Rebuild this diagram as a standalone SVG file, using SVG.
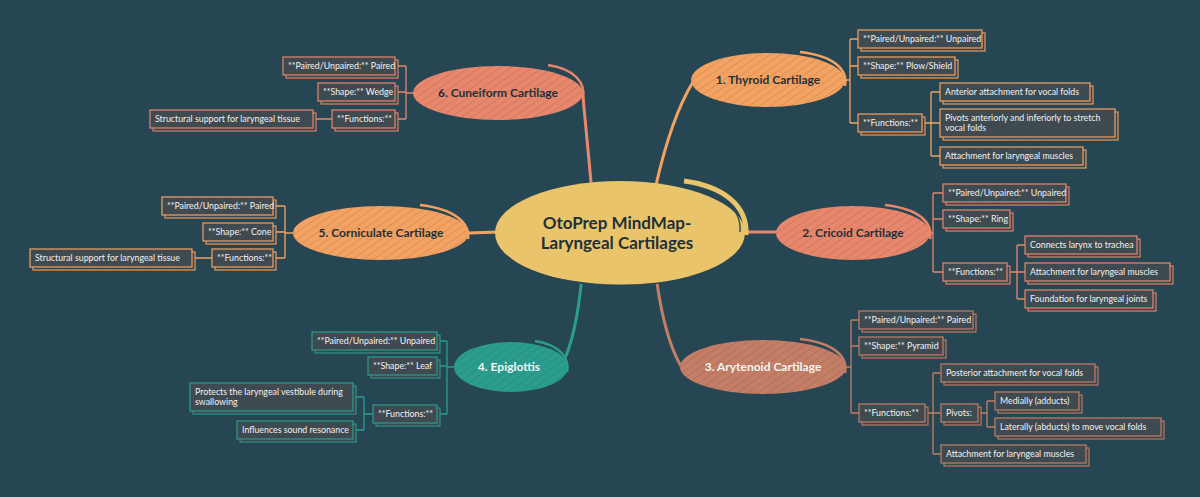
<svg xmlns="http://www.w3.org/2000/svg" width="1200" height="497" viewBox="0 0 1200 497">
<defs>
<pattern id="hatch" patternUnits="userSpaceOnUse" width="6" height="6" patternTransform="rotate(55)">
<line x1="0" y1="0" x2="0" y2="6" stroke="#1c2b30" stroke-opacity="0.32" stroke-width="0.8"/>
</pattern>
<pattern id="hatch2" patternUnits="userSpaceOnUse" width="9" height="9" patternTransform="rotate(55)">
<line x1="0" y1="0" x2="0" y2="9" stroke="#ffffff" stroke-opacity="0.05" stroke-width="0.8"/>
</pattern>
<style>
.bx{fill:#3e4a50;stroke-width:1.2}
.sh{fill:#3a464c;stroke-width:1.1}
.or{stroke:#f4a261}
.sa{stroke:#e8876c}
.br{stroke:#c47e65}
.te{stroke:#2a9d8f}
.t{font-family:Lato,"Open Sans",sans-serif;font-size:8.8px;fill:#f2f2f2}
.n{font-family:Lato,"Open Sans",sans-serif;font-size:12px;font-weight:bold;text-anchor:middle}
.dk{fill:#1f3039}
.wh{fill:#f5f5f5}
.ln{fill:none;stroke-width:1.3}
.cn{fill:none;stroke-width:3;stroke-linecap:round}
.hx{fill:url(#hatch)}
.bh{fill:url(#hatch2)}
</style>
</defs>
<rect width="1200" height="497" fill="#264653"/>

<g id="connectors">
<path class="cn or" d="M656,185 C664,150 677,108 693,82"/>
<path class="cn sa" d="M747,232 L779,232"/>
<path class="cn br" d="M657,283 C662,318 670,348 682,368"/>
<path class="cn te" d="M581,285 C578,315 573,338 566,356"/>
<path class="cn or" d="M469,233 L498,232"/>
<path class="cn sa" d="M583,97 C586,130 589,160 591,182"/>
<path class="ln or" d="M845,80 H850 M850,39 V123 M850,39 H858 M850,66 H858 M850,123 H858 M922,123 H931 M931,92 V156 M931,92 H940 M931,123 H940 M931,156 H940"/>
<path class="ln sa" d="M930,233 H933 M933,193 V272 M933,193 H943 M933,219 H943 M933,272 H943 M1007,272 H1017 M1017,245 V299 M1017,245 H1025 M1017,272 H1025 M1017,299 H1025"/>
<path class="ln br" d="M846,367 H851 M851,320 V413 M851,320 H859 M851,346 H859 M851,413 H859 M925,413 H933 M933,373 V454 M933,373 H941 M933,413 H941 M933,454 H941 M978,413 H987 M987,401 V427 M987,401 H995 M987,427 H995"/>
<path class="ln sa" d="M413,93 H406 M406,66 V119 M406,66 H395 M406,92 H395 M406,119 H395 M332,119 H313"/>
<path class="ln or" d="M293,233 H285 M285,206 V258 M285,206 H273 M285,232 H273 M285,258 H273 M212,258 H192"/>
<path class="ln te" d="M454,367 H447 M447,341 V414 M447,341 H437 M447,366 H437 M447,414 H437 M373,414 H364 M364,397 V430 M364,397 H353 M364,430 H353"/>
</g>

<g id="center">
<ellipse cx="620" cy="233" rx="125" ry="52" fill="#e9c46a"/>
<path d="M684,181 C722,186 748,205 746,235" fill="none" stroke="#e9c46a" stroke-width="5"/>
<path d="M688,186 C724,193 742,210 740,232" fill="none" stroke="#264653" stroke-width="1.6" stroke-opacity="0.85"/>
<path d="M507,256 C530,280 600,290 660,283" fill="none" stroke="#264653" stroke-width="1.6" stroke-opacity="0.8"/>
<text class="n dk" x="617" y="229" style="font-size:17px">OtoPrep MindMap-</text>
<text class="n dk" x="617" y="249" style="font-size:17px">Laryngeal Cartilages</text>
</g>

<g id="thyroid">
<ellipse cx="768" cy="80" rx="77" ry="27" fill="#f4a261"/>
<ellipse class="hx" cx="768" cy="80" rx="77" ry="27"/>
<path d="M800,52 C835,56 848,70 845,86" fill="none" stroke="#f4a261" stroke-width="2.5"/>
<text class="n dk" x="768" y="84">1. Thyroid Cartilage</text>
</g>
<g id="thyroid-paired"><rect class="sh or" x="861" y="33" width="124" height="18"/><rect class="bx or" x="858" y="30" width="124" height="18"/><rect class="bh" x="858" y="30" width="124" height="18"/><text class="t" x="863" y="42">**Paired/Unpaired:** Unpaired</text></g>
<g id="thyroid-shape"><rect class="sh or" x="861" y="60" width="97" height="18"/><rect class="bx or" x="858" y="57" width="97" height="18"/><rect class="bh" x="858" y="57" width="97" height="18"/><text class="t" x="863" y="69">**Shape:** Plow/Shield</text></g>
<g id="thyroid-functions"><rect class="sh or" x="861" y="117" width="64" height="18"/><rect class="bx or" x="858" y="114" width="64" height="18"/><rect class="bh" x="858" y="114" width="64" height="18"/><text class="t" x="863" y="126">**Functions:**</text></g>
<g id="thyroid-f1"><rect class="sh or" x="943" y="86" width="150" height="18"/><rect class="bx or" x="940" y="83" width="150" height="18"/><rect class="bh" x="940" y="83" width="150" height="18"/><text class="t" x="945" y="95">Anterior attachment for vocal folds</text></g>
<g id="thyroid-f2"><rect class="sh or" x="943" y="112" width="175" height="28"/><rect class="bx or" x="940" y="109" width="175" height="28"/><rect class="bh" x="940" y="109" width="175" height="28"/><text class="t" x="945" y="121">Pivots anteriorly and inferiorly to stretch</text><text class="t" x="945" y="131">vocal folds</text></g>
<g id="thyroid-f3"><rect class="sh or" x="943" y="150" width="143" height="18"/><rect class="bx or" x="940" y="147" width="143" height="18"/><rect class="bh" x="940" y="147" width="143" height="18"/><text class="t" x="945" y="159">Attachment for laryngeal muscles</text></g>

<g id="cricoid">
<ellipse cx="853" cy="233" rx="77" ry="27" fill="#e8876c"/>
<ellipse class="hx" cx="853" cy="233" rx="77" ry="27"/>
<path d="M885,205 C920,209 933,223 930,239" fill="none" stroke="#e8876c" stroke-width="2.5"/>
<text class="n dk" x="853" y="237">2. Cricoid Cartilage</text>
</g>
<g id="cricoid-paired"><rect class="sh sa" x="946" y="187" width="123" height="18"/><rect class="bx sa" x="943" y="184" width="123" height="18"/><rect class="bh" x="943" y="184" width="123" height="18"/><text class="t" x="948" y="196">**Paired/Unpaired:** Unpaired</text></g>
<g id="cricoid-shape"><rect class="sh sa" x="946" y="213" width="67" height="18"/><rect class="bx sa" x="943" y="210" width="67" height="18"/><rect class="bh" x="943" y="210" width="67" height="18"/><text class="t" x="948" y="222">**Shape:** Ring</text></g>
<g id="cricoid-functions"><rect class="sh sa" x="946" y="266" width="64" height="18"/><rect class="bx sa" x="943" y="263" width="64" height="18"/><rect class="bh" x="943" y="263" width="64" height="18"/><text class="t" x="948" y="275">**Functions:**</text></g>
<g id="cricoid-f1"><rect class="sh sa" x="1028" y="239" width="112" height="18"/><rect class="bx sa" x="1025" y="236" width="112" height="18"/><rect class="bh" x="1025" y="236" width="112" height="18"/><text class="t" x="1030" y="248">Connects larynx to trachea</text></g>
<g id="cricoid-f2"><rect class="sh sa" x="1028" y="266" width="145" height="18"/><rect class="bx sa" x="1025" y="263" width="145" height="18"/><rect class="bh" x="1025" y="263" width="145" height="18"/><text class="t" x="1030" y="275">Attachment for laryngeal muscles</text></g>
<g id="cricoid-f3"><rect class="sh sa" x="1028" y="293" width="128" height="18"/><rect class="bx sa" x="1025" y="290" width="128" height="18"/><rect class="bh" x="1025" y="290" width="128" height="18"/><text class="t" x="1030" y="302">Foundation for laryngeal joints</text></g>

<g id="arytenoid">
<ellipse cx="763" cy="367" rx="83" ry="27" fill="#c47e65"/>
<ellipse class="hx" cx="763" cy="367" rx="83" ry="27"/>
<path d="M800,339 C835,343 848,357 845,373" fill="none" stroke="#c47e65" stroke-width="2.5"/>
<text class="n wh" x="763" y="371">3. Arytenoid Cartilage</text>
</g>
<g id="arytenoid-paired"><rect class="sh br" x="862" y="314" width="114" height="18"/><rect class="bx br" x="859" y="311" width="114" height="18"/><rect class="bh" x="859" y="311" width="114" height="18"/><text class="t" x="864" y="323">**Paired/Unpaired:** Paired</text></g>
<g id="arytenoid-shape"><rect class="sh br" x="862" y="340" width="84" height="18"/><rect class="bx br" x="859" y="337" width="84" height="18"/><rect class="bh" x="859" y="337" width="84" height="18"/><text class="t" x="864" y="349">**Shape:** Pyramid</text></g>
<g id="arytenoid-functions"><rect class="sh br" x="862" y="407" width="66" height="18"/><rect class="bx br" x="859" y="404" width="66" height="18"/><rect class="bh" x="859" y="404" width="66" height="18"/><text class="t" x="864" y="416">**Functions:**</text></g>
<g id="arytenoid-f1"><rect class="sh br" x="944" y="367" width="154" height="18"/><rect class="bx br" x="941" y="364" width="154" height="18"/><rect class="bh" x="941" y="364" width="154" height="18"/><text class="t" x="946" y="376">Posterior attachment for vocal folds</text></g>
<g id="arytenoid-pivots"><rect class="sh br" x="944" y="407" width="37" height="18"/><rect class="bx br" x="941" y="404" width="37" height="18"/><rect class="bh" x="941" y="404" width="37" height="18"/><text class="t" x="946" y="416">Pivots:</text></g>
<g id="arytenoid-p1"><rect class="sh br" x="998" y="395" width="84" height="18"/><rect class="bx br" x="995" y="392" width="84" height="18"/><rect class="bh" x="995" y="392" width="84" height="18"/><text class="t" x="1000" y="404">Medially (adducts)</text></g>
<g id="arytenoid-p2"><rect class="sh br" x="998" y="421" width="166" height="18"/><rect class="bx br" x="995" y="418" width="166" height="18"/><rect class="bh" x="995" y="418" width="166" height="18"/><text class="t" x="1000" y="430">Laterally (abducts) to move vocal folds</text></g>
<g id="arytenoid-f3"><rect class="sh br" x="944" y="448" width="145" height="18"/><rect class="bx br" x="941" y="445" width="145" height="18"/><rect class="bh" x="941" y="445" width="145" height="18"/><text class="t" x="946" y="457">Attachment for laryngeal muscles</text></g>

<g id="epiglottis">
<ellipse cx="511" cy="367" rx="57" ry="25" fill="#2a9d8f"/>
<ellipse class="hx" cx="511" cy="367" rx="57" ry="25"/>
<path d="M535,341 C560,345 570,358 567,372" fill="none" stroke="#2a9d8f" stroke-width="2.5"/>
<text class="n wh" x="509" y="371">4. Epiglottis</text>
</g>
<g id="epiglottis-paired"><rect class="sh te" x="315" y="335" width="125" height="18"/><rect class="bx te" x="312" y="332" width="125" height="18"/><rect class="bh" x="312" y="332" width="125" height="18"/><text class="t" x="317" y="344">**Paired/Unpaired:** Unpaired</text></g>
<g id="epiglottis-shape"><rect class="sh te" x="371" y="360" width="69" height="18"/><rect class="bx te" x="368" y="357" width="69" height="18"/><rect class="bh" x="368" y="357" width="69" height="18"/><text class="t" x="373" y="369">**Shape:** Leaf</text></g>
<g id="epiglottis-functions"><rect class="sh te" x="376" y="408" width="64" height="18"/><rect class="bx te" x="373" y="405" width="64" height="18"/><rect class="bh" x="373" y="405" width="64" height="18"/><text class="t" x="378" y="417">**Functions:**</text></g>
<g id="epiglottis-f1"><rect class="sh te" x="193" y="386" width="163" height="28"/><rect class="bx te" x="190" y="383" width="163" height="28"/><rect class="bh" x="190" y="383" width="163" height="28"/><text class="t" x="195" y="395">Protects the laryngeal vestibule during</text><text class="t" x="195" y="405">swallowing</text></g>
<g id="epiglottis-f2"><rect class="sh te" x="240" y="424" width="116" height="18"/><rect class="bx te" x="237" y="421" width="116" height="18"/><rect class="bh" x="237" y="421" width="116" height="18"/><text class="t" x="242" y="433">Influences sound resonance</text></g>

<g id="corniculate">
<ellipse cx="381" cy="233" rx="88" ry="27" fill="#f4a261"/>
<ellipse class="hx" cx="381" cy="233" rx="88" ry="27"/>
<path d="M420,205 C455,209 470,223 468,239" fill="none" stroke="#f4a261" stroke-width="2.5"/>
<text class="n dk" x="381" y="237">5. Corniculate Cartilage</text>
</g>
<g id="corniculate-paired"><rect class="sh or" x="165" y="200" width="111" height="18"/><rect class="bx or" x="162" y="197" width="111" height="18"/><rect class="bh" x="162" y="197" width="111" height="18"/><text class="t" x="167" y="209">**Paired/Unpaired:** Paired</text></g>
<g id="corniculate-shape"><rect class="sh or" x="206" y="226" width="70" height="18"/><rect class="bx or" x="203" y="223" width="70" height="18"/><rect class="bh" x="203" y="223" width="70" height="18"/><text class="t" x="208" y="235">**Shape:** Cone</text></g>
<g id="corniculate-functions"><rect class="sh or" x="215" y="252" width="61" height="18"/><rect class="bx or" x="212" y="249" width="61" height="18"/><rect class="bh" x="212" y="249" width="61" height="18"/><text class="t" x="217" y="261">**Functions:**</text></g>
<g id="corniculate-f1"><rect class="sh or" x="33" y="252" width="162" height="18"/><rect class="bx or" x="30" y="249" width="162" height="18"/><rect class="bh" x="30" y="249" width="162" height="18"/><text class="t" x="35" y="261">Structural support for laryngeal tissue</text></g>

<g id="cuneiform">
<ellipse cx="498" cy="93" rx="85" ry="27" fill="#e8876c"/>
<ellipse class="hx" cx="498" cy="93" rx="85" ry="27"/>
<path d="M548,65 C575,69 586,83 583,99" fill="none" stroke="#e8876c" stroke-width="2.5"/>
<text class="n dk" x="498" y="97">6. Cuneiform Cartilage</text>
</g>
<g id="cuneiform-paired"><rect class="sh sa" x="286" y="60" width="112" height="18"/><rect class="bx sa" x="283" y="57" width="112" height="18"/><rect class="bh" x="283" y="57" width="112" height="18"/><text class="t" x="288" y="69">**Paired/Unpaired:** Paired</text></g>
<g id="cuneiform-shape"><rect class="sh sa" x="321" y="86" width="77" height="18"/><rect class="bx sa" x="318" y="83" width="77" height="18"/><rect class="bh" x="318" y="83" width="77" height="18"/><text class="t" x="323" y="95">**Shape:** Wedge</text></g>
<g id="cuneiform-functions"><rect class="sh sa" x="335" y="113" width="63" height="18"/><rect class="bx sa" x="332" y="110" width="63" height="18"/><rect class="bh" x="332" y="110" width="63" height="18"/><text class="t" x="337" y="122">**Functions:**</text></g>
<g id="cuneiform-f1"><rect class="sh sa" x="153" y="113" width="163" height="18"/><rect class="bx sa" x="150" y="110" width="163" height="18"/><rect class="bh" x="150" y="110" width="163" height="18"/><text class="t" x="155" y="122">Structural support for laryngeal tissue</text></g>
</svg>
